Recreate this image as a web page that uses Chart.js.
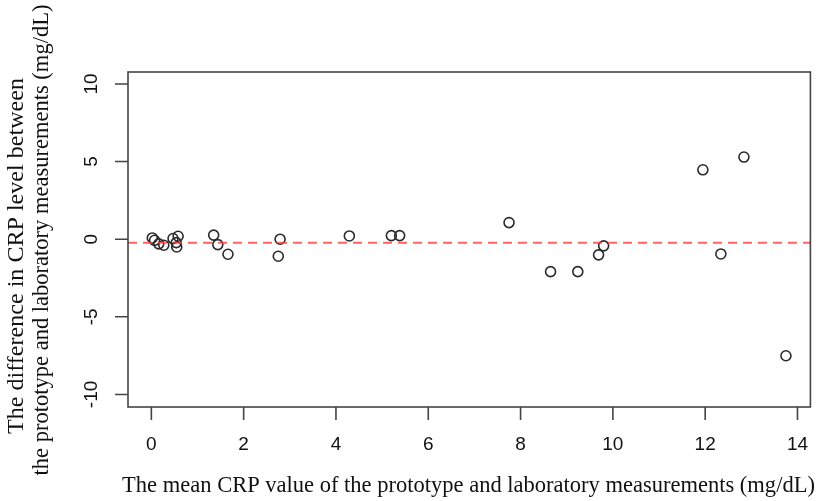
<!DOCTYPE html>
<html>
<head>
<meta charset="utf-8">
<script src="https://cdn.jsdelivr.net/npm/chart.js@4/dist/chart.umd.min.js"></script>
<style>
html,body{margin:0;padding:0;background:#fff;}
canvas{display:block;}
</style>
</head>
<body>
<canvas id="c" width="817" height="501"></canvas>
<script>
// Bland-Altman data
const meanCRP = [0.02, 0.07, 0.16, 0.27, 0.47, 0.58, 0.54, 0.55,
                 1.35, 1.44, 1.66, 2.75, 2.79, 4.29, 5.20, 5.38,
                 7.75, 8.65, 9.24, 9.69, 9.80, 11.95, 12.34, 12.84, 13.75];
const diffCRP = [0.08, -0.07, -0.30, -0.39, 0.04, 0.19, -0.22, -0.50,
                 0.26, -0.35, -0.97, -1.10, 0.00, 0.21, 0.23, 0.23,
                 1.07, -2.09, -2.09, -1.01, -0.43, 4.47, -0.95, 5.29, -7.51];
const meanDiff = -0.23;
const xTicks = [0, 2, 4, 6, 8, 10, 12, 14];
const yTicks = [-10, -5, 0, 5, 10];
const xTitle = 'The mean CRP value of the prototype and laboratory measurements (mg/dL)';
const yTitle1 = 'The difference in CRP level between';
const yTitle2 = 'the prototype and laboratory measurements (mg/dL)';

const points = meanCRP.map((x, i) => ({x: x, y: diffCRP[i]}));

const rStyle = {
  id: 'rStyle',
  beforeDraw(chart) {
    const ctx = chart.ctx;
    ctx.save();
    ctx.fillStyle = '#fff';
    ctx.fillRect(0, 0, chart.width, chart.height);
    ctx.restore();
  },
  afterDatasetsDraw(chart) {
    const ctx = chart.ctx, a = chart.chartArea;
    const xs = chart.scales.x, ys = chart.scales.y;
    // mean difference line
    ctx.save();
    const yp = ys.getPixelForValue(meanDiff);
    ctx.strokeStyle = 'rgba(255,60,60,0.8)';
    ctx.lineWidth = 2;
    ctx.setLineDash([9, 6]);
    ctx.beginPath();
    ctx.moveTo(a.left, yp);
    ctx.lineTo(a.right, yp);
    ctx.stroke();
    ctx.restore();

    // box
    ctx.save();
    ctx.strokeStyle = '#444';
    ctx.lineWidth = 1.6;
    ctx.strokeRect(a.left, a.top, a.right - a.left, a.bottom - a.top);

    // ticks
    const tl = 13;
    ctx.beginPath();
    xTicks.forEach(v => {
      const p = xs.getPixelForValue(v);
      ctx.moveTo(p, a.bottom);
      ctx.lineTo(p, a.bottom + tl);
    });
    yTicks.forEach(v => {
      const p = ys.getPixelForValue(v);
      ctx.moveTo(a.left, p);
      ctx.lineTo(a.left - tl, p);
    });
    ctx.stroke();

    // tick labels
    ctx.fillStyle = '#111';
    ctx.font = '19px "Liberation Sans", Arial, sans-serif';
    ctx.textAlign = 'center';
    ctx.textBaseline = 'middle';
    xTicks.forEach(v => {
      ctx.fillText(String(v), xs.getPixelForValue(v), a.bottom + 38);
    });
    yTicks.forEach(v => {
      const p = ys.getPixelForValue(v);
      ctx.save();
      ctx.translate(a.left - 36, p);
      ctx.rotate(-Math.PI / 2);
      ctx.fillText(String(v), 0, 0);
      ctx.restore();
    });

    // axis titles (serif)
    const serif = 'px "Liberation Serif", "Times New Roman", serif';
    ctx.font = '20' + serif;
    const fs = 20 * 693 / ctx.measureText(xTitle).width;
    const fs1 = 20 * 356 / ctx.measureText(yTitle1).width;
    ctx.font = fs.toFixed(2) + serif;
    ctx.fillText(xTitle, 468.5, 486);
    ctx.save();
    ctx.translate(42, 240);
    ctx.rotate(-Math.PI / 2);
    ctx.fillText(yTitle2, 0, 0);
    ctx.restore();
    ctx.font = fs1.toFixed(2) + serif;
    ctx.save();
    ctx.translate(17, 256);
    ctx.rotate(-Math.PI / 2);
    ctx.fillText(yTitle1, 0, 0);
    ctx.restore();
    ctx.restore();
  }
};

new Chart(document.getElementById('c'), {
  type: 'scatter',
  data: {
    datasets: [{
      data: points,
      pointStyle: 'circle',
      pointRadius: 5,
      pointHoverRadius: 5,
      borderWidth: 1.6,
      borderColor: '#2a2a2a',
      backgroundColor: 'rgba(0,0,0,0)'
    }]
  },
  options: {
    responsive: false,
    animation: false,
    events: [],
    layout: {padding: {left: 128, top: 72, right: 5, bottom: 94}},
    plugins: {legend: {display: false}, tooltip: {enabled: false}},
    scales: {
      x: {type: 'linear', min: -0.506, max: 14.28, display: false},
      y: {type: 'linear', min: -10.81, max: 10.77, display: false}
    }
  },
  plugins: [rStyle]
});
</script>
</body>
</html>
